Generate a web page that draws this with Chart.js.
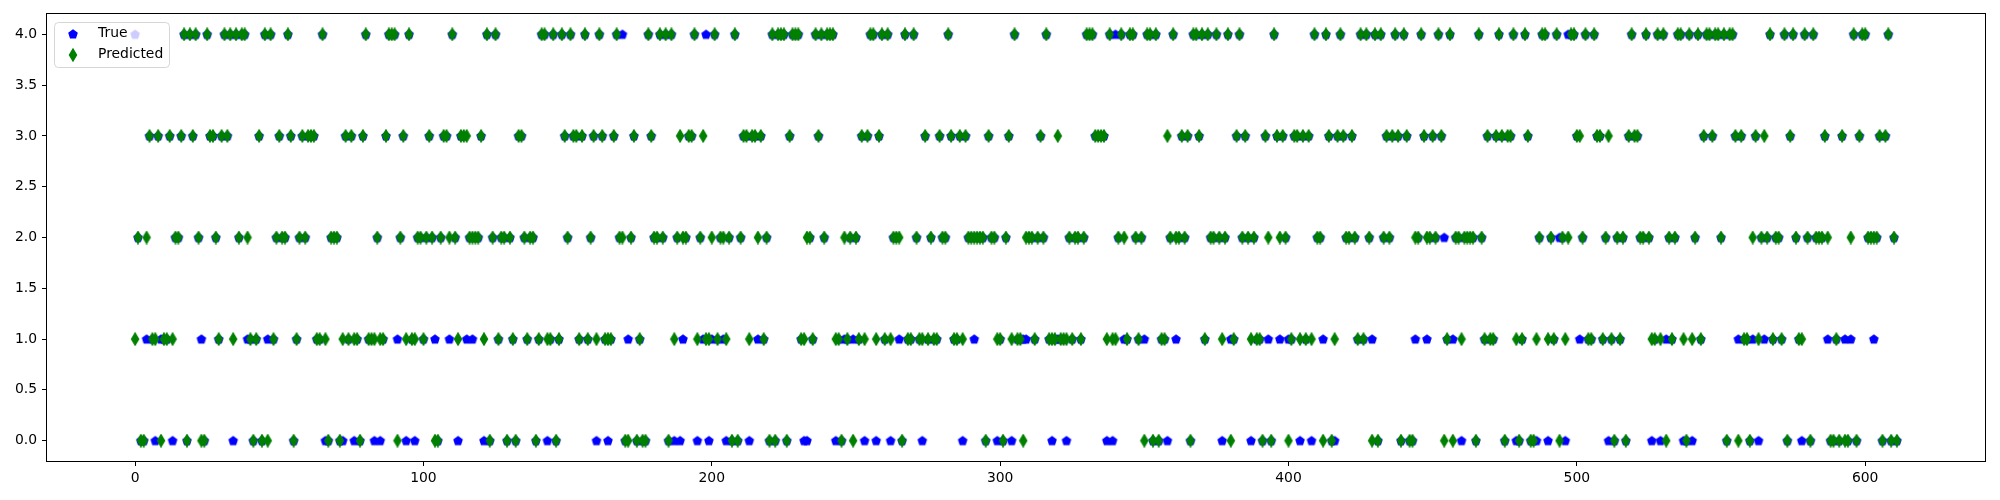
<!DOCTYPE html>
<html>
<head>
<meta charset="utf-8">
<script src="https://cdn.jsdelivr.net/npm/chart.js@4.4.1/dist/chart.umd.min.js"></script>
<style>
  html, body { margin: 0; padding: 0; background: #fff; }
  #wrap { width: 2000px; height: 500px; }
</style>
</head>
<body>
<div id="wrap"><canvas id="chart" width="2000" height="500"></canvas></div>
<script>
// series names and axis ticks
const seriesNames = ['True', 'Predicted'];
const xTicks = [0, 100, 200, 300, 400, 500, 600];
const yTicks = [0, 0.5, 1, 1.5, 2, 2.5, 3, 3.5, 4];

// class per sample index
const actual = [
  4,2,0,0,1,3,1,0,3,1, 1,1,3,0,2,2,3,4,0,4, 3,4,2,1,0,4,3,3,2,1, 3,4,3,4,0,4,2,4,4,1,
  1,0,1,3,0,4,1,4,1,2, 3,2,2,4,3,0,1,2,3,
  2,3,3,3,1,1,4,0,0,2, 2,2,0,0,3,1,3,0,1,0, 3,4,1,1,0,2,0,1,3,4, 4,4,1,2,3,0,4,1,0,2,
  2,1,2,3,2,1,0,2,3,3, 1,4,2,0,3,3,1,2,1,2, 2,3,0,
  4,0,2,4,1,2,2,0,2,1, 0,3,3,2,1,2,2,0,1,4, 4,0,1,4,0,1,4,3,2,4, 3,3,1,3,4,1,2,3,0,4,
  3,1,0,1,3,4,2,4,0,1, 2,3,0,1,0,0,4,3,2,2, 4,2,
  4,0,4,0,2,0,1,2,3,3, 4,0,2,1,4,0,1,4,1,2, 1,0,2,0,4,0,2,3,3,0, 3,3,1,3,1,2,0,4,0,4,
  4,4,0,3,4,4,4,1,0,0, 2,1,4,3,4,2,4,4,4,0, 1,0,1,
  1,2,1,2,1,3,0,3,4,4, 0,3,4,1,4,0,2,2,1,0, 4,1,1,4,2,1,0,3,1,2, 1,1,3,2,2,4,3,1,1,3,
  0,3,2,2,1,2,2,2,0,3, 2,2,0,1,0,2,3,0,4,1, 1,1,
  1,2,2,1,2,3,2,4,1,0, 1,1,1,1,0,2,1,2,2,1, 2,4,4,4,3,3,3,3,0,4, 0,4,2,4,1,1,4,4,2,1,
  2,1,4,4,0,4,0,1,1,0, 2,4,1,2,3,2,3,0,4,4, 3,4,1,
  4,2,2,4,2,0,2,4,1,1, 3,4,2,3,2,0,2,1,1,0, 3,1,0,4,3,1,3,2,1,1, 3,3,0,3,1,3,0,4,2,2,
  1,4,3,0,0,3,4,3,2,2, 3,2,1,4,1,4,2,1,4,0, 4,2,
  3,2,3,4,3,0,4,3,0,0, 1,2,4,3,1,2,3,2,4,3, 2,1,4,1,2,2,0,2,2,2, 2,0,4,2,1,3,1,1,3,4,
  3,0,3,3,4,0,0,1,4,3, 0,0,0,2,4,4,0,2,1,4, 2,2,0,
  4,4,4,3,1,2,4,1,1,4, 3,3,1,2,0,1,0,2,1,2, 0,3,4,3,3,2,2,4,2,0, 1,4,0,4,1,2,1,2,4,4,
  0,0,4,0,2,4,1,3,4,4, 3,4,4,2,4,0,4,4,3,1, 3,1,
  1,0,1,3,0,2,1,2,4,1, 2,2,1,4,0,3,4,2,1,0, 4,2,0,4,2,2,2,3,1,0, 0,1,0,3,1,0,1,4,0,3,
  4,4,2,2,1,2,3,0,3,4, 0,2,0
];
const predicted = [
  1,2,0,0,2,3,1,1,3,0, 1,1,3,1,2,2,3,4,0,4, 3,4,2,0,0,4,3,3,2,1, 3,4,3,4,1,4,2,4,4,2,
  1,0,1,3,0,4,0,4,1,2, 3,2,2,4,3,0,1,2,3,
  2,3,3,3,1,1,4,1,0,2, 2,2,0,1,3,1,3,1,1,0, 3,4,1,1,1,2,1,1,3,4, 4,4,0,2,3,1,4,1,1,2,
  2,1,2,3,2,0,0,2,3,3, 2,4,2,1,3,3,3,2,2,2, 2,3,1,
  4,0,2,4,1,2,2,0,2,1, 0,3,3,2,1,2,2,0,1,4, 4,1,1,4,0,1,4,3,2,4, 3,3,1,3,4,1,2,3,1,4,
  3,1,1,1,3,4,2,2,0,0, 2,3,0,1,0,0,4,3,2,2, 4,2,
  4,0,4,1,2,3,2,2,3,3, 4,1,2,3,1,1,2,4,1,2, 2,1,2,0,4,0,2,3,3,1, 3,3,2,3,1,2,0,4,0,4,
  4,4,0,3,4,4,4,1,1,2, 2,1,4,3,4,2,4,4,4,1, 1,0,2,
  1,2,0,2,1,3,1,3,4,4, 1,3,4,1,4,1,2,2,2,0, 4,1,1,4,2,1,1,3,1,2, 1,1,3,2,2,4,3,1,1,3,
  1,3,2,2,2,2,2,2,0,3, 2,2,1,1,0,2,3,1,4,1, 1,0,
  2,2,2,1,2,3,2,4,1,1, 1,3,1,1,1,2,1,2,2,1, 2,4,4,4,3,3,3,3,1,4, 1,1,2,4,2,1,4,4,2,1,
  2,0,4,4,0,4,0,1,1,3, 2,4,2,2,3,2,3,0,4,4, 3,4,1,
  4,2,2,4,2,1,2,4,0,1, 3,4,2,3,2,1,2,1,1,0, 3,2,0,4,3,2,3,2,0,1, 3,3,1,3,1,3,1,4,2,2,
  0,4,3,0,1,3,4,3,2,2, 3,2,1,4,1,4,2,0,4,0, 4,2,
  3,2,3,4,3,0,4,3,0,0, 2,2,4,3,2,2,3,2,4,3, 0,1,4,0,2,2,1,2,2,2, 2,0,4,2,1,3,1,1,3,4,
  3,0,3,3,4,1,0,1,4,3, 0,0,1,2,4,4,1,2,1,4, 0,2,1,
  2,4,4,3,3,2,4,1,1,4, 3,3,1,2,3,1,0,2,1,2, 0,3,4,3,3,2,2,4,2,1, 1,4,1,4,0,2,1,2,4,4,
  1,0,4,1,2,4,1,3,4,4, 3,4,4,2,4,0,4,4,3,0, 3,1,
  1,0,2,3,1,2,3,2,4,1, 2,2,1,4,0,3,4,2,1,1, 4,2,0,4,2,2,2,3,2,0, 0,1,0,3,0,0,2,4,0,3,
  4,4,2,2,2,2,3,0,3,4, 0,2,0
];

const trueColor = '#0000ff';
const predColor = '#008000';

// marker images: pentagon like matplotlib 'p', thin diamond like 'd'
function makePentagon(color) {
  const c = document.createElement('canvas');
  c.width = 12; c.height = 12;
  const g = c.getContext('2d');
  g.beginPath();
  for (let k = 0; k < 5; k++) {
    const a = (-90 + 72 * k) * Math.PI / 180;
    const px = 6 + 4.2 * Math.cos(a), py = 6.3 + 4.2 * Math.sin(a);
    if (k === 0) g.moveTo(px, py); else g.lineTo(px, py);
  }
  g.closePath();
  g.fillStyle = color; g.strokeStyle = color; g.lineWidth = 1.4;
  g.fill(); g.stroke();
  return c;
}

function makeThinDiamond(color) {
  const c = document.createElement('canvas');
  c.width = 10; c.height = 14;
  const g = c.getContext('2d');
  g.beginPath();
  g.moveTo(5, 1.1);
  g.lineTo(8.5, 7);
  g.lineTo(5, 12.9);
  g.lineTo(1.5, 7);
  g.closePath();
  g.fillStyle = color; g.strokeStyle = color; g.lineWidth = 1.4;
  g.fill(); g.stroke();
  return c;
}

const pentImg = makePentagon(trueColor);
const diamImg = makeThinDiamond(predColor);

const n = predicted.length;
const font = { family: 'DejaVu Sans', size: 13.9 };

// box around the axes plus a matplotlib style legend
const frameLegend = {
  id: 'frameLegend',
  afterDraw(chart) {
    const ctx = chart.ctx;
    const a = chart.chartArea;
    ctx.save();
    ctx.strokeStyle = '#000';
    ctx.lineWidth = 1;
    ctx.strokeRect(Math.round(a.left) - 0.5, Math.round(a.top) - 0.5,
      Math.round(a.right - a.left) + 1, Math.round(a.bottom - a.top) + 1);

    // legend box
    const lx = 54.5, ly = 22.5, lw = 115, lh = 45, r = 4;
    ctx.beginPath();
    ctx.moveTo(lx + r, ly);
    ctx.lineTo(lx + lw - r, ly);
    ctx.quadraticCurveTo(lx + lw, ly, lx + lw, ly + r);
    ctx.lineTo(lx + lw, ly + lh - r);
    ctx.quadraticCurveTo(lx + lw, ly + lh, lx + lw - r, ly + lh);
    ctx.lineTo(lx + r, ly + lh);
    ctx.quadraticCurveTo(lx, ly + lh, lx, ly + lh - r);
    ctx.lineTo(lx, ly + r);
    ctx.quadraticCurveTo(lx, ly, lx + r, ly);
    ctx.closePath();
    ctx.globalAlpha = 0.8;
    ctx.fillStyle = '#ffffff';
    ctx.fill();
    ctx.strokeStyle = '#cccccc';
    ctx.stroke();
    ctx.globalAlpha = 1;

    ctx.drawImage(pentImg, 73 - 6, 34 - 6);
    ctx.drawImage(diamImg, 73 - 5, 55 - 7);
    ctx.fillStyle = '#000';
    ctx.font = '13.9px "DejaVu Sans"';
    ctx.textBaseline = 'middle';
    ctx.textAlign = 'left';
    ctx.fillText(seriesNames[0], 98, 33.5);
    ctx.fillText(seriesNames[1], 98, 54.5);
    ctx.restore();
  }
};

new Chart(document.getElementById('chart').getContext('2d'), {
  type: 'scatter',
  data: {
    datasets: [
      {
        label: seriesNames[0],
        data: actual.map((v, i) => ({ x: i, y: v })),
        pointStyle: pentImg,
        backgroundColor: trueColor,
        borderColor: trueColor,
        order: 1
      },
      {
        label: seriesNames[1],
        data: predicted.map((v, i) => ({ x: i, y: v })),
        pointStyle: diamImg,
        backgroundColor: predColor,
        borderColor: predColor,
        order: 0
      }
    ]
  },
  options: {
    responsive: false,
    animation: false,
    events: [],
    layout: { padding: { top: 14, right: 15, left: 0, bottom: 0 } },
    plugins: {
      legend: { display: false },
      tooltip: { enabled: false }
    },
    scales: {
      x: {
        type: 'linear',
        min: -0.05 * (n - 1),
        max: 1.05 * (n - 1),
        afterBuildTicks: s => { s.ticks = xTicks.map(v => ({ value: v })); },
        afterFit: s => { s.height = 39; },
        border: { display: false },
        grid: { drawOnChartArea: false, drawTicks: true, tickLength: 5, color: '#000', lineWidth: 1 },
        ticks: { color: '#000', padding: 4, font: font, maxRotation: 0, autoSkip: false,
                 callback: v => String(v) }
      },
      y: {
        type: 'linear',
        min: -0.2,
        max: 4.2,
        afterBuildTicks: s => { s.ticks = yTicks.map(v => ({ value: v })); },
        afterFit: s => { s.width = 47; },
        border: { display: false },
        grid: { drawOnChartArea: false, drawTicks: true, tickLength: 5, color: '#000', lineWidth: 1 },
        ticks: { color: '#000', padding: 5, font: font, autoSkip: false,
                 callback: v => Number(v).toFixed(1) }
      }
    }
  },
  plugins: [frameLegend]
});
</script>
</body>
</html>
